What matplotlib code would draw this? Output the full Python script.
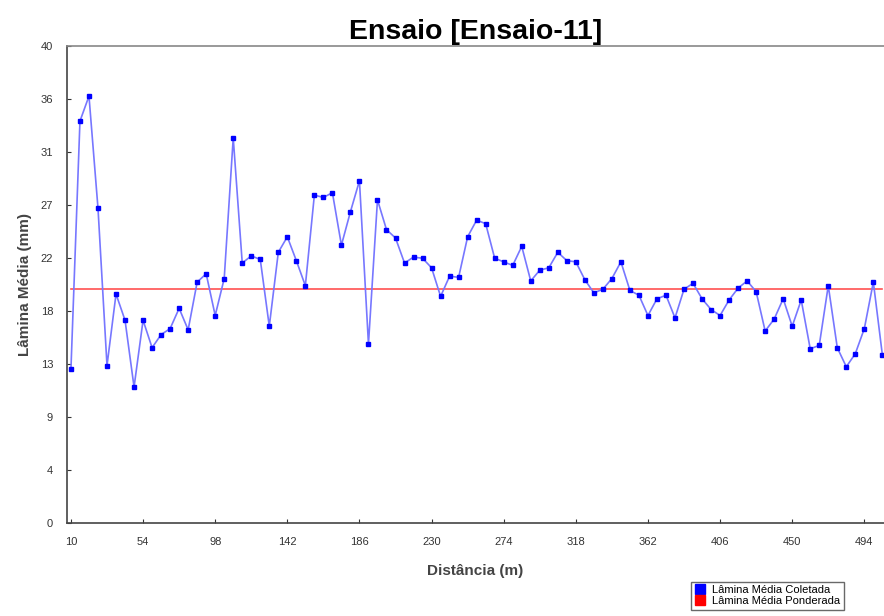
import numpy as np
import matplotlib
matplotlib.use("Agg")
import matplotlib.pyplot as plt
from matplotlib.lines import Line2D

plt.rcParams['font.family'] = ['Liberation Sans', 'DejaVu Sans']

# ================= DATA =================

distancia = [10, 15.5, 21, 26.5, 32, 37.5, 43, 48.5, 54, 59.5,
             65, 70.5, 76, 81.5, 87, 92.5, 98, 103.5, 109, 114.5,
             120, 125.5, 131, 136.5, 142, 147.5, 153, 158.5, 164, 169.5,
             175, 180.5, 186, 191.5, 197, 202.5, 208, 213.5, 219, 224.5,
             230, 235.5, 241, 246.5, 252, 257.5, 263, 268.5, 274, 279.5,
             285, 290.5, 296, 301.5, 307, 312.5, 318, 323.5, 329, 334.5,
             340, 345.5, 351, 356.5, 362, 367.5, 373, 378.5, 384, 389.5,
             395, 400.5, 406, 411.5, 417, 422.5, 428, 433.5, 439, 444.5,
             450, 455.5, 461, 466.5, 472, 477.5, 483, 488.5, 494, 499.5,
             505]

lamina_coletada = [12.9, 33.7, 35.8, 26.4, 13.2, 19.2, 17.0, 11.4, 17.0, 14.7,
                   15.8, 16.3, 18.0, 16.2, 20.2, 20.9, 17.4, 20.5, 32.3, 21.8,
                   22.4, 22.1, 16.5, 22.7, 24.0, 22.0, 19.9, 27.5, 27.3, 27.7,
                   23.3, 26.1, 28.7, 15.0, 27.1, 24.6, 23.9, 21.8, 22.3, 22.2,
                   21.4, 19.0, 20.7, 20.6, 24.0, 25.4, 25.1, 22.2, 21.9, 21.6,
                   23.2, 20.3, 21.2, 21.4, 22.7, 22.0, 21.9, 20.4, 19.3, 19.6,
                   20.5, 21.9, 19.5, 19.1, 17.4, 18.8, 19.1, 17.2, 19.6, 20.1,
                   18.8, 17.9, 17.4, 18.7, 19.7, 20.3, 19.4, 16.1, 17.1, 18.8,
                   16.5, 18.7, 14.6, 14.9, 19.9, 14.7, 13.1, 14.2, 16.3, 20.2,
                   14.1]

lamina_ponderada = 19.6

x_ticks = [10, 54, 98, 142, 186, 230, 274, 318, 362, 406, 450, 494]

# ================= PLOT =================

fig = plt.figure(figsize=(8.84, 6.16), dpi=100)
ax = fig.add_axes([0.0758, 0.151, 0.9242, 0.7743])

ax.plot(distancia, lamina_coletada, color='#7777ff', lw=1.2, zorder=3)
ax.plot(distancia, lamina_coletada, 's', color='#0000ff', ms=3.2, zorder=4)
ax.plot([distancia[0], distancia[-1]], [lamina_ponderada, lamina_ponderada],
        color='#ff5050', lw=1.2, zorder=2)

ax.set_xlim(7.6, 506)
ax.set_ylim(0, 40)

y_ticks = np.linspace(0, 40, 10)
ax.set_yticks(y_ticks)
ax.set_yticklabels([str(int(round(v))) for v in y_ticks])
ax.set_xticks(x_ticks)

ax.tick_params(direction='in', length=3, width=0.8, colors='#333333',
               labelsize=8, labelcolor='#333333')
ax.tick_params(axis='y', pad=10)
ax.tick_params(axis='x', pad=10)

for side in ['left', 'bottom']:
    ax.spines[side].set_color('#444444')
    ax.spines[side].set_linewidth(1.2)
ax.spines['top'].set_color('#888888')
ax.spines['top'].set_linewidth(1.2)
ax.spines['right'].set_visible(False)

ax.set_title("Ensaio [Ensaio-11]", fontsize=20.5, fontweight='bold', pad=5)
ax.set_xlabel("Distância (m)", fontsize=11, fontweight='bold', color='#444444', labelpad=12)
ax.set_ylabel("Lâmina Média (mm)", fontsize=11, fontweight='bold', color='#444444', labelpad=6)

handles = [Line2D([], [], ls='none', marker='s', color='#0000ff', ms=7),
           Line2D([], [], ls='none', marker='s', color='#ff0000', ms=7)]
fig.legend(handles, ["Lâmina Média Coletada", "Lâmina Média Ponderada"],
           loc='upper left', bbox_to_anchor=(0.782, 0.0555), fontsize=8,
           frameon=True, fancybox=False, edgecolor='#444444',
           handletextpad=0.6, borderpad=0.3, labelspacing=0.1,
           handlelength=1.0, borderaxespad=0)

fig.savefig("out.png", dpi=100)
